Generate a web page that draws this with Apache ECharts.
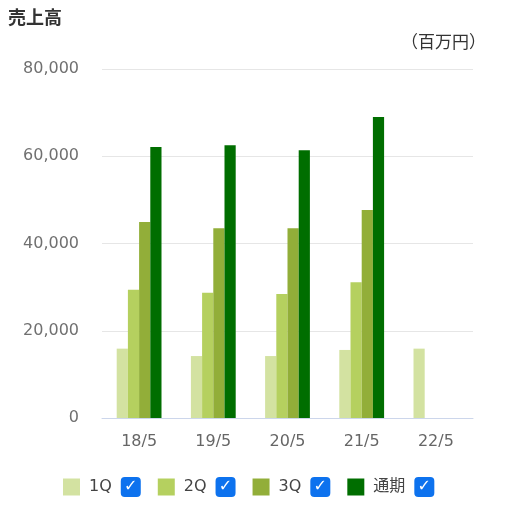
<!DOCTYPE html>
<html>
<head>
<meta charset="utf-8">
<script src="https://cdn.jsdelivr.net/npm/echarts@6/dist/echarts.min.js"></script>
<style>
html,body{margin:0;padding:0;background:#fff;}
#c{width:507px;height:507px;}
</style>
</head>
<body>
<div id="c"></div>
<script>
const categories = ['18/5', '19/5', '20/5', '21/5', '22/5'];
const seriesNames = ['1Q', '2Q', '3Q', '通期'];
const q1 = [15900, 14200, 14200, 15600, 15900];
const q2 = [29400, 28700, 28400, 31100, null];
const q3 = [44900, 43500, 43500, 47700, null];
const full = [62100, 62500, 61400, 69000, null];
const seriesColors = ['#d3e2a1', '#b5d05f', '#92ae39', '#006e00'];
const yTicks = [0, 20000, 40000, 60000, 80000];

const font = '"Noto Sans CJK JP", "Noto Sans", sans-serif';
const numFont = '"DejaVu Sans", "Noto Sans CJK JP", sans-serif';
const chart = echarts.init(document.getElementById('c'), null, {renderer: 'canvas'});
const values = [q1, q2, q3, full];
chart.setOption({
  animation: false,
  textStyle: {fontFamily: font},
  title: [
    {text: '売上高', left: 8, top: 8, padding: 0, textStyle: {fontSize: 18, fontWeight: 'bold', color: '#333', fontFamily: font}},
    {text: '（百万円）', right: 21, top: 33, padding: 0, textStyle: {fontSize: 17, fontWeight: 'normal', color: '#333', fontFamily: font}}
  ],
  grid: {left: 102, right: 34, top: 69, bottom: 89},
  legend: {
    bottom: 10,
    left: 63,
    padding: 0,
    icon: 'rect',
    itemWidth: 17,
    itemHeight: 17,
    itemGap: 17,
    textStyle: {fontSize: 16, color: '#333', fontFamily: numFont,
      rich: {
        n: {fontSize: 16, color: '#444', fontFamily: numFont, padding: [0, 0, 0, 4]},
        s: {width: 9},
        c: {backgroundColor: '#0d72ee', color: '#fff', borderRadius: 4, width: 20, height: 20, lineHeight: 20, align: 'center', fontSize: 16, fontWeight: 'bold', fontFamily: numFont}
      }},
    formatter: name => '{n|' + name + '}{s| }{c|✓}',
    data: seriesNames
  },
  xAxis: {
    type: 'category',
    data: categories,
    axisLine: {lineStyle: {color: '#ccd6eb'}},
    axisTick: {show: false},
    axisLabel: {fontSize: 16, color: '#666', margin: 16, fontFamily: numFont}
  },
  yAxis: {
    type: 'value',
    min: 0, max: 80000, interval: 20000,
    axisLabel: {fontSize: 16, color: '#707070', margin: 23, fontFamily: numFont, padding: [3, 0, 0, 0],
      formatter: v => yTicks.includes(v) ? v.toLocaleString('en-US') : ''},
    splitLine: {lineStyle: {color: '#e6e6e6'}},
    axisLine: {show: false},
    axisTick: {show: false}
  },
  series: seriesNames.map((n, i) => ({
    name: n,
    type: 'bar',
    data: values[i],
    barWidth: 11.2,
    barGap: '0%',
    itemStyle: {color: seriesColors[i]}
  }))
});
</script>
</body>
</html>
